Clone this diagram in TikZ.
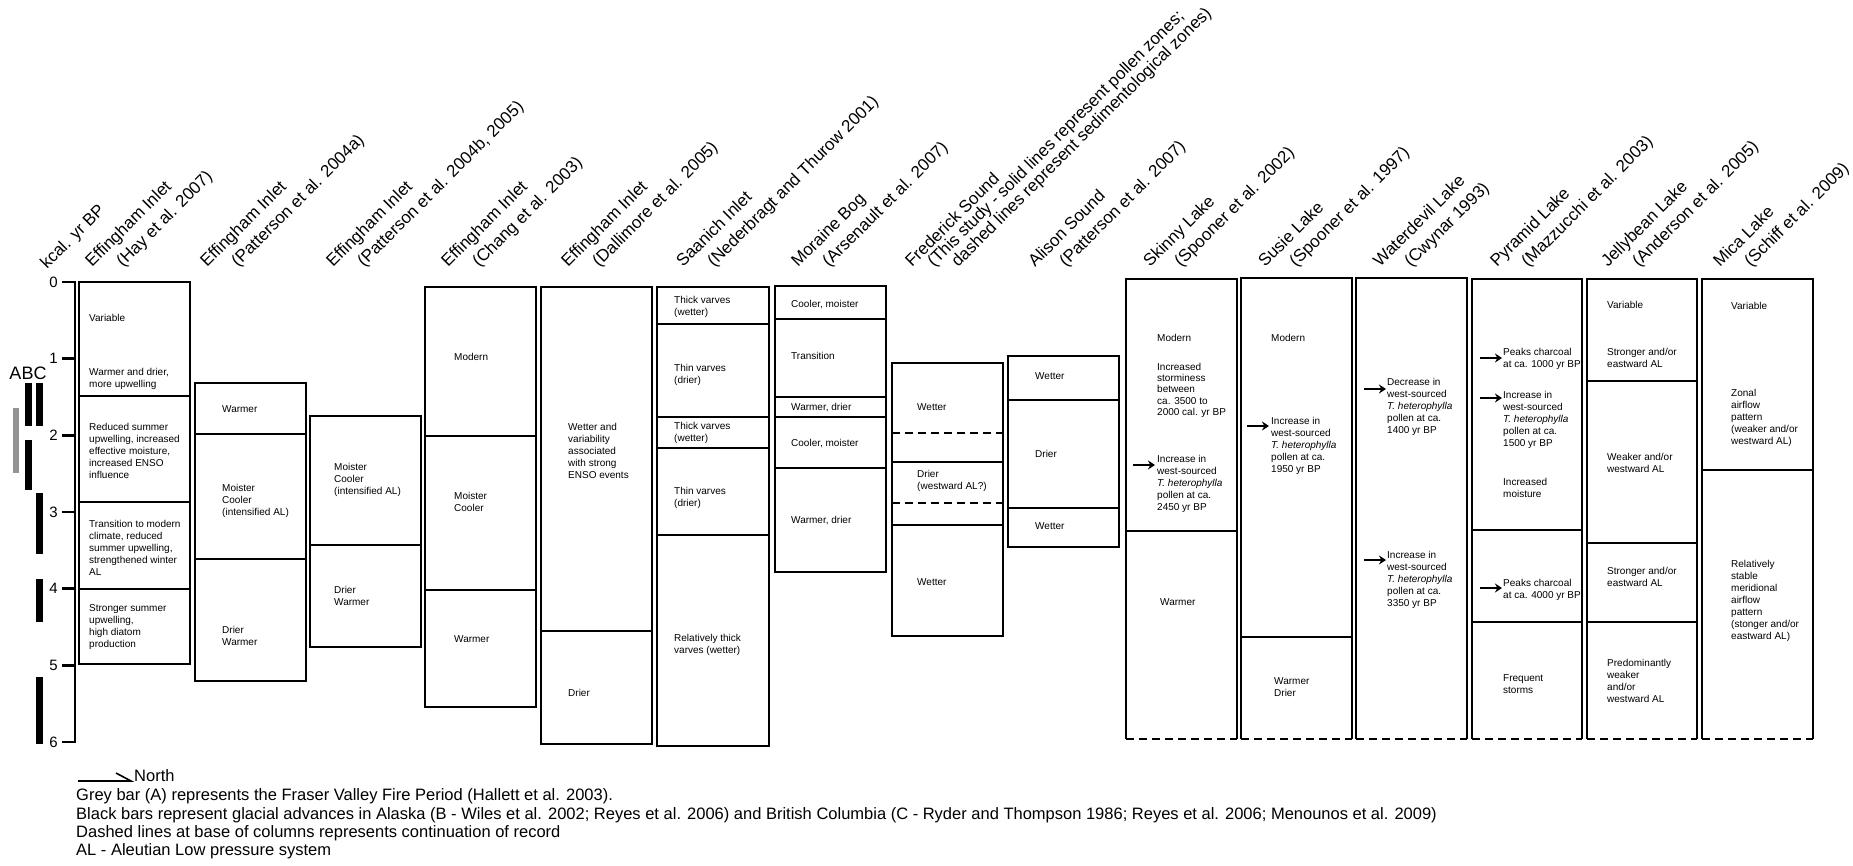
\documentclass[tikz,border=0pt]{standalone}
\usepackage{fontspec}
\setmainfont{Liberation Sans}
\usetikzlibrary{arrows.meta}
\newcommand\cbox[4]{\draw[box] (#1,#3) rectangle (#2,#4);}
\newcommand\obox[3]{\draw[box] (#1,739) -- (#1,#3) -- (#2,#3) -- (#2,739); \draw[ddv] (#1,739) -- (#2,739);}
\newcommand\dline[3]{\draw[dv] (#1,#3) -- (#2,#3);}
\newcommand\ddline[3]{\draw[ddv] (#1,#3) -- (#2,#3);}
\newcommand\hd[4]{\node[hdr] (#1a) at (#2,268) {#3}; \node[hdr] (#1b) at ({#2+31},268) {#4};}
\newcommand\Th{\textit{T. heterophylla}}
\begin{document}
\begin{tikzpicture}[x=1pt,y=-1pt,
  box/.style={line width=2.7pt, line join=miter},
  dv/.style={line width=2.5pt},
  ddv/.style={line width=2.5pt, dash pattern=on 8pt off 5pt},
  txt/.style={anchor=north west, inner sep=0pt, align=left, font=\fontsize{10}{12}\selectfont},
  hdr/.style={anchor=base west, inner sep=0pt, rotate=45, font=\fontsize{17}{20}\selectfont},
  warr/.style={line width=2.2pt, -{Stealth[length=7pt,width=9pt]}},
  lgd/.style={anchor=base west, inner sep=0pt, font=\fontsize{16.5}{19}\selectfont},
  num/.style={anchor=east, inner sep=0pt, font=\fontsize{15}{18}\selectfont},
]
\useasboundingbox (0,0) rectangle (1853,865);
\fill[white] (0,0) rectangle (1853,865);

% axis
\draw[line width=2.4pt, line join=miter] (62,282) -- (75,282) -- (75,742) -- (62,742);
\foreach \i in {1,...,5} {\pgfmathsetmacro\yy{282+76.67*\i} \draw[line width=2.4pt] (62,\yy) -- (75,\yy);}
\foreach \i in {0,...,6} {\pgfmathsetmacro\yy{282+76.67*\i} \node[num] (n\i) at (58,\yy) {\i};}
\node[inner sep=0pt, font=\fontsize{18}{20}\selectfont] (abc) at (28,373) {ABC};

% bars
\fill[black!42] (12.5,408) rectangle (18.5,473);
\fill (25,383) rectangle (32,426);
\fill (25,440) rectangle (32,490);
\fill (36,383) rectangle (43,426);
\fill (36,493) rectangle (43,554);
\fill (36,579) rectangle (43,622);
\fill (36,677) rectangle (43,744);

% headers
\node[hdr] (kcal) at (47,270) {kcal. yr BP};
\hd{h1}{92}{Effingham Inlet}{(Hay et al. 2007)}
\hd{h2}{207}{Effingham Inlet}{(Patterson et al. 2004a)}
\hd{h3}{333}{Effingham Inlet}{(Patterson et al. 2004b, 2005)}
\hd{h4}{448}{Effingham Inlet}{(Chang et al. 2003)}
\hd{h5}{568}{Effingham Inlet}{(Dallimore et al. 2005)}
\hd{h6}{683}{Saanich Inlet}{(Nederbragt and Thurow 2001)}
\hd{h7}{798}{Moraine Bog}{(Arsenault et al. 2007)}
\node[hdr] (h8a) at (912,268) {Frederick Sound};
\node[hdr] (h8b) at (934,268) {(This study - solid lines represent pollen zones;};
\node[hdr] (h8c) at (958,268) {dashed lines represent sedimentological zones)};
\hd{h9}{1035}{Alison Sound}{(Patterson et al. 2007)}
\hd{h10}{1150}{Skinny Lake}{(Spooner et al. 2002)}
\hd{h11}{1265}{Susie Lake}{(Spooner et al. 1997)}
\hd{h12}{1380}{Waterdevil Lake}{(Cwynar 1993)}
\hd{h13}{1497}{Pyramid Lake}{(Mazzucchi et al. 2003)}
\hd{h14}{1608}{Jellybean Lake}{(Anderson et al. 2005)}
\hd{h15}{1720}{Mica Lake}{(Schiff et al. 2009)}

% columns
\cbox{79}{190}{282}{664} \dline{79}{190}{396} \dline{79}{190}{502} \dline{79}{190}{589}
\cbox{195}{306}{383}{681} \dline{195}{306}{434} \dline{195}{306}{559}
\cbox{310}{421}{416}{647} \dline{310}{421}{545}
\cbox{425}{536}{287}{707} \dline{425}{536}{436} \dline{425}{536}{590}
\cbox{541}{652}{287}{744} \dline{541}{652}{631}
\cbox{657}{769}{287}{746} \dline{657}{769}{324} \dline{657}{769}{417} \dline{657}{769}{448} \dline{657}{769}{535}
\cbox{775}{886}{286}{572} \dline{775}{886}{319} \dline{775}{886}{397} \dline{775}{886}{417} \dline{775}{886}{468}
\cbox{892}{1003}{363}{636} \dline{892}{1003}{462} \dline{892}{1003}{525} \ddline{892}{1003}{433} \ddline{892}{1003}{503}
\cbox{1008}{1119}{356}{547} \dline{1008}{1119}{400} \dline{1008}{1119}{508}
\obox{1126}{1237}{279} \dline{1126}{1237}{531}
\obox{1241}{1352}{278} \dline{1241}{1352}{637}
\obox{1356}{1467}{278}
\obox{1472}{1582}{279} \dline{1472}{1582}{530} \dline{1472}{1582}{622}
\obox{1587}{1697}{279} \dline{1587}{1697}{381} \dline{1587}{1697}{543} \dline{1587}{1697}{622}
\obox{1702}{1813}{279} \dline{1702}{1813}{470}

% texts
\node[txt] (c1a) at (89,314) {Variable};
\node[txt] (c1b) at (89,368) {Warmer and drier,\\more upwelling};
\node[txt] (c1c) at (89,423) {Reduced summer\\upwelling, increased\\effective moisture,\\increased ENSO\\influence};
\node[txt] (c1d) at (89,520) {Transition to modern\\climate, reduced\\summer upwelling,\\strengthened winter\\AL};
\node[txt] (c1e) at (89,604) {Stronger summer\\upwelling,\\high diatom\\production};

\node[txt] (c2a) at (222,405) {Warmer};
\node[txt] (c2b) at (222,484) {Moister\\Cooler\\(intensified AL)};
\node[txt] (c2c) at (222,626) {Drier\\Warmer};

\node[txt] (c3a) at (334,463) {Moister\\Cooler\\(intensified AL)};
\node[txt] (c3b) at (334,586) {Drier\\Warmer};

\node[txt] (c4a) at (454,353) {Modern};
\node[txt] (c4b) at (454,492) {Moister\\Cooler};
\node[txt] (c4c) at (454,635) {Warmer};

\node[txt] (c5a) at (568,423) {Wetter and\\variability\\associated\\with strong\\ENSO events};
\node[txt] (c5b) at (568,689) {Drier};

\node[txt] (c6a) at (674,296) {Thick varves\\(wetter)};
\node[txt] (c6b) at (674,364) {Thin varves\\(drier)};
\node[txt] (c6c) at (674,422) {Thick varves\\(wetter)};
\node[txt] (c6d) at (674,487) {Thin varves\\(drier)};
\node[txt] (c6e) at (674,634) {Relatively thick\\varves (wetter)};

\node[txt] (c7a) at (791,300) {Cooler, moister};
\node[txt] (c7b) at (791,352) {Transition};
\node[txt] (c7c) at (791,403) {Warmer, drier};
\node[txt] (c7d) at (791,439) {Cooler, moister};
\node[txt] (c7e) at (791,516) {Warmer, drier};

\node[txt] (c8a) at (917,403) {Wetter};
\node[txt] (c8b) at (917,470) {Drier\\(westward AL?)};
\node[txt] (c8c) at (917,578) {Wetter};

\node[txt] (c9a) at (1035,372) {Wetter};
\node[txt] (c9b) at (1035,450) {Drier};
\node[txt] (c9c) at (1035,522) {Wetter};

\node[txt] (c10a) at (1157,334) {Modern};
\node[txt, font=\fontsize{10}{11.2}\selectfont] (c10b) at (1157,363) {Increased\\storminess\\between\\ca. 3500 to\\2000 cal. yr BP};
\node[txt] (c10c) at (1157,455) {Increase in\\west-sourced\\\Th\\pollen at ca.\\2450 yr BP};
\node[txt] (c10d) at (1160,598) {Warmer};

\node[txt] (c11a) at (1271,334) {Modern};
\node[txt] (c11b) at (1271,417) {Increase in\\west-sourced\\\Th\\pollen at ca.\\1950 yr BP};
\node[txt] (c11c) at (1274,677) {Warmer\\Drier};

\node[txt] (c12a) at (1387,378) {Decrease in\\west-sourced\\\Th\\pollen at ca.\\1400 yr BP};
\node[txt] (c12b) at (1387,551) {Increase in\\west-sourced\\\Th\\pollen at ca.\\3350 yr BP};

\node[txt] (c13a) at (1503,348) {Peaks charcoal\\at ca. 1000 yr BP};
\node[txt] (c13b) at (1503,391) {Increase in\\west-sourced\\\Th\\pollen at ca.\\1500 yr BP};
\node[txt] (c13c) at (1503,478) {Increased\\moisture};
\node[txt] (c13d) at (1503,579) {Peaks charcoal\\at ca. 4000 yr BP};
\node[txt] (c13e) at (1503,674) {Frequent\\storms};

\node[txt] (c14a) at (1607,301) {Variable};
\node[txt] (c14b) at (1607,348) {Stronger and/or\\eastward AL};
\node[txt] (c14c) at (1607,453) {Weaker and/or\\westward AL};
\node[txt] (c14d) at (1607,567) {Stronger and/or\\eastward AL};
\node[txt] (c14e) at (1607,659) {Predominantly\\weaker\\and/or\\westward AL};

\node[txt] (c15a) at (1731,302) {Variable};
\node[txt] (c15b) at (1731,389) {Zonal\\airflow\\pattern\\(weaker and/or\\westward AL)};
\node[txt] (c15c) at (1731,560) {Relatively\\stable\\meridional\\airflow\\pattern\\(stonger and/or\\eastward AL)};

% arrows
\coordinate (a1s) at (1133,465); \coordinate (a1e) at (1155,465);
\coordinate (a2s) at (1247,426); \coordinate (a2e) at (1269,426);
\coordinate (a3s) at (1364,389); \coordinate (a3e) at (1386,389);
\coordinate (a4s) at (1364,560); \coordinate (a4e) at (1386,560);
\coordinate (a5s) at (1480,358); \coordinate (a5e) at (1502,358);
\coordinate (a6s) at (1480,398); \coordinate (a6e) at (1502,398);
\coordinate (a7s) at (1480,588); \coordinate (a7e) at (1502,588);
\foreach \k in {1,...,7} {\draw[warr] (a\k s) -- (a\k e);}

% legend
\coordinate (ns) at (78,781); \coordinate (ne) at (131,781); \coordinate (nb) at (116,773);
\draw[line width=1.6pt, line join=miter] (ns) -- (ne) -- (nb);
\node[lgd] (north) at (134,781) {North};
\node[lgd] (l1) at (76,800) {Grey bar (A) represents the Fraser Valley Fire Period (Hallett et al. 2003).};
\node[lgd] (l2) at (76,819) {Black bars represent glacial advances in Alaska (B - Wiles et al. 2002; Reyes et al. 2006) and British Columbia (C - Ryder and Thompson 1986; Reyes et al. 2006; Menounos et al. 2009)};
\node[lgd] (l3) at (76,837) {Dashed lines at base of columns represents continuation of record};
\node[lgd] (l4) at (76,855) {AL - Aleutian Low pressure system};
\end{tikzpicture}
\end{document}
